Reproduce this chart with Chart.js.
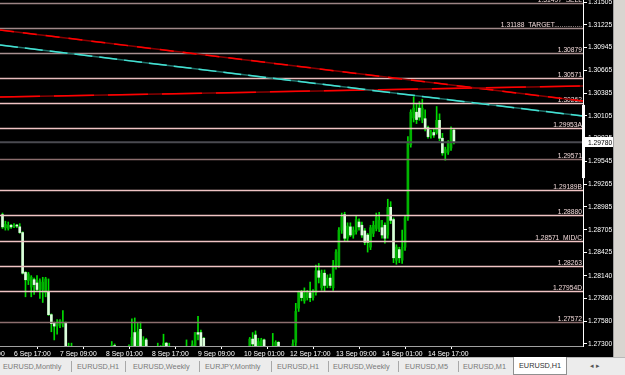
<!DOCTYPE html>
<html><head><meta charset="utf-8">
<script src="https://cdn.jsdelivr.net/npm/chart.js@4/dist/chart.umd.min.js"></script>
<style>
html,body{margin:0;padding:0;background:#fff;}
#wrap{position:relative;width:625px;height:375px;overflow:hidden;background:#000;}
#c{position:absolute;left:0;top:0;}
#frame{position:absolute;left:613px;top:0;width:12px;height:357px;background:#d8d5d0;border-left:1px solid #a0a0a0;box-sizing:border-box;}
#tabs{position:absolute;left:0;top:357px;width:625px;height:18px;background:#ececec;border-top:1px solid #b8b8b8;box-sizing:border-box;font:7.3px 'Liberation Sans',Arial,sans-serif;color:#7a7a7a;}
.t{position:absolute;top:4px;white-space:nowrap;}
.s{position:absolute;top:3px;width:1px;height:11px;background:#a8a8a8;}
#act{position:absolute;left:513px;top:-1px;width:54px;height:18px;background:#fff;border:1px solid #909090;border-top:none;box-sizing:border-box;}
#act span{position:absolute;left:5px;top:4px;color:#333;}
</style></head>
<body>
<div id="wrap">
<canvas id="c" width="613" height="357"></canvas>
<div id="frame"></div>
<div id="tabs"></div>
</div>
<script>
// ---- data ----
const opens=[1.2889,1.2873,1.2872,1.2876,1.2874,1.2876,1.2874,1.2867,1.2818,1.2808,1.2800,1.2809,1.2805,1.2796,1.2797,1.2793,1.2794,1.2766,1.2756,1.2752,1.2753,1.2755,1.2756,1.2722,1.2710,1.2725,1.2706,1.2700,1.2708,1.2702,1.2697,1.2705,1.2709,1.2704,1.2710,1.2716,1.2711,1.2715,1.2720,1.2728,1.2716,1.2712,1.2717,1.2721,1.2718,1.2726,1.2744,1.2727,1.2748,1.2724,1.2735,1.2718,1.2712,1.2719,1.2715,1.2724,1.2715,1.2731,1.2716,1.2722,1.2714,1.2709,1.2713,1.2719,1.2723,1.2720,1.2725,1.2722,1.2744,1.2744,1.2737,1.2720,1.2712,1.2716,1.2711,1.2706,1.2710,1.2714,1.2709,1.2712,1.2718,1.2714,1.2717,1.2721,1.2716,1.2720,1.2724,1.2736,1.2741,1.2720,1.2725,1.2735,1.2718,1.2712,1.2720,1.2726,1.2732,1.2720,1.2714,1.2718,1.2722,1.2719,1.2732,1.2774,1.2794,1.2783,1.2787,1.2793,1.2787,1.2793,1.2820,1.2799,1.2817,1.2802,1.2811,1.2799,1.2825,1.2827,1.2870,1.2889,1.2860,1.2874,1.2864,1.2868,1.2880,1.2876,1.2869,1.2864,1.2849,1.2866,1.2872,1.2871,1.2873,1.2876,1.2864,1.2898,1.2883,1.2833,1.2846,1.2833,1.2849,1.2885,1.2975,1.3008,1.3015,1.3020,1.3006,1.3007,1.2996,1.2986,1.2990,1.2990,1.3005,1.2983,1.2965,1.2966,1.2971,1.2993];
const highs=[1.2891,1.2881,1.2880,1.2877,1.2878,1.2877,1.2878,1.2868,1.2819,1.2818,1.2814,1.2811,1.2814,1.2810,1.2812,1.2812,1.2810,1.2767,1.2757,1.2760,1.2760,1.2771,1.2757,1.2731,1.2731,1.2727,1.2715,1.2712,1.2716,1.2710,1.2709,1.2714,1.2718,1.2712,1.2720,1.2722,1.2719,1.2724,1.2733,1.2730,1.2722,1.2720,1.2724,1.2726,1.2729,1.2761,1.2762,1.2756,1.2757,1.2739,1.2737,1.2725,1.2722,1.2726,1.2731,1.2728,1.2742,1.2732,1.2731,1.2727,1.2720,1.2718,1.2722,1.2726,1.2735,1.2727,1.2734,1.2744,1.2764,1.2747,1.2738,1.2726,1.2720,1.2724,1.2718,1.2714,1.2719,1.2721,1.2716,1.2722,1.2725,1.2720,1.2724,1.2726,1.2723,1.2727,1.2738,1.2744,1.2746,1.2737,1.2737,1.2736,1.2725,1.2724,1.2743,1.2734,1.2733,1.2726,1.2722,1.2726,1.2727,1.2735,1.2780,1.2795,1.2796,1.2799,1.2796,1.2806,1.2797,1.2827,1.2829,1.2821,1.2821,1.2815,1.2816,1.2833,1.2846,1.2873,1.2891,1.2892,1.2879,1.2879,1.2874,1.2887,1.2884,1.2880,1.2872,1.2866,1.2876,1.2881,1.2891,1.2892,1.2882,1.2879,1.2908,1.2905,1.2885,1.2852,1.2849,1.2870,1.2888,1.2985,1.3018,1.3034,1.3025,1.3028,1.3031,1.3018,1.2998,1.2993,1.2995,1.3022,1.3013,1.2989,1.2972,1.2980,1.2997,1.2995];
const lows=[1.2872,1.2870,1.2870,1.2872,1.2873,1.2873,1.2866,1.2816,1.2788,1.2803,1.2788,1.2791,1.2795,1.2786,1.2781,1.2788,1.2765,1.2745,1.2735,1.2742,1.2750,1.2751,1.2712,1.2705,1.2702,1.2700,1.2695,1.2690,1.2698,1.2692,1.2688,1.2699,1.2700,1.2696,1.2703,1.2706,1.2702,1.2708,1.2712,1.2712,1.2705,1.2704,1.2709,1.2712,1.2714,1.2720,1.2722,1.2720,1.2718,1.2716,1.2712,1.2708,1.2705,1.2711,1.2710,1.2712,1.2712,1.2712,1.2708,1.2710,1.2702,1.2700,1.2706,1.2711,1.2715,1.2712,1.2716,1.2718,1.2735,1.2718,1.2715,1.2708,1.2703,1.2708,1.2701,1.2697,1.2703,1.2706,1.2700,1.2706,1.2710,1.2705,1.2709,1.2712,1.2708,1.2713,1.2718,1.2722,1.2716,1.2714,1.2718,1.2712,1.2708,1.2706,1.2714,1.2716,1.2715,1.2708,1.2705,1.2710,1.2712,1.2714,1.2728,1.2770,1.2783,1.2780,1.2784,1.2782,1.2784,1.2790,1.2805,1.2796,1.2795,1.2799,1.2799,1.2796,1.2822,1.2824,1.2866,1.2857,1.2856,1.2862,1.2860,1.2865,1.2870,1.2861,1.2852,1.2843,1.2846,1.2862,1.2869,1.2868,1.2860,1.2854,1.2860,1.2878,1.2830,1.2828,1.2830,1.2829,1.2845,1.2882,1.2972,1.3003,1.3001,1.3005,1.3002,1.2992,1.2983,1.2983,1.2984,1.2988,1.2980,1.2962,1.2956,1.2963,1.2968,1.2976];
const closes=[1.2874,1.2877,1.2876,1.2874,1.2876,1.2875,1.2867,1.2817,1.2809,1.2816,1.2812,1.2803,1.2797,1.2808,1.2806,1.2810,1.2766,1.2755,1.2752,1.2755,1.2759,1.2757,1.2722,1.2710,1.2725,1.2706,1.2700,1.2708,1.2702,1.2697,1.2705,1.2709,1.2704,1.2710,1.2716,1.2711,1.2715,1.2720,1.2728,1.2716,1.2712,1.2717,1.2721,1.2718,1.2726,1.2738,1.2727,1.2745,1.2724,1.2735,1.2718,1.2712,1.2719,1.2715,1.2724,1.2716,1.2731,1.2716,1.2722,1.2714,1.2709,1.2713,1.2719,1.2723,1.2720,1.2725,1.2729,1.2744,1.2742,1.2724,1.2720,1.2712,1.2716,1.2711,1.2706,1.2710,1.2714,1.2709,1.2712,1.2718,1.2714,1.2717,1.2721,1.2716,1.2720,1.2724,1.2736,1.2730,1.2720,1.2733,1.2735,1.2718,1.2712,1.2720,1.2726,1.2732,1.2720,1.2714,1.2718,1.2722,1.2719,1.2730,1.2770,1.2794,1.2787,1.2793,1.2793,1.2787,1.2792,1.2820,1.2812,1.2817,1.2802,1.2811,1.2802,1.2827,1.2843,1.2870,1.2886,1.2860,1.2875,1.2864,1.2870,1.2883,1.2874,1.2864,1.2855,1.2855,1.2873,1.2876,1.2886,1.2882,1.2864,1.2860,1.2898,1.2882,1.2836,1.2849,1.2836,1.2849,1.2885,1.2977,1.3015,1.3020,1.3006,1.3009,1.3020,1.2996,1.2985,1.2990,1.2987,1.3005,1.2983,1.2965,1.2969,1.2977,1.2993,1.2978];

const yTickValues=[1.31505,1.31225,1.30945,1.30665,1.30385,1.30105,1.29825,1.29545,1.29265,1.28985,1.28705,1.28425,1.28140,1.27860,1.27580,1.27300];
const xTickIndex=[-12,4,20,36,52,68,84,100,116,132,148];
const xTickLabels=['6 Sep 01:00','6 Sep 17:00','7 Sep 09:00','8 Sep 01:00','8 Sep 17:00','9 Sep 09:00','10 Sep 01:00','12 Sep 17:00','13 Sep 09:00','14 Sep 01:00','14 Sep 17:00'];

const levelPrices=[1.31497,1.31188,1.30879,1.30571,1.30262,1.29953,1.29571,1.29189,1.28880,1.28571,1.28263,1.27954,1.27572];
const levelTags=['  SELL','  TARGET...............','','','','A','','B','','  MID/C','','D',''];
const bidPrice=1.29780;
const axisMarkRange=[1.30240,1.29340];

// trend lines: [bar index, price] anchor pairs
const redUpperLine=[[0,1.31157],[157,1.30481]];
const redLowerLine=[[0,1.30338],[157,1.30443]];
const cyanLine=[[0,1.30973],[157,1.30296]];

const tabNames=['EURUSD,Monthly','EURUSD,H1','EURUSD,Weekly','EURJPY,Monthly','EURUSD,H1','EURUSD,Weekly','EURUSD,M5','EURUSD,M1'];
const activeTab='EURUSD,H1';

// ---- styles (not data) ----
const levelColors=['#9c8484','#a08888','#a89090','#e8bcbc','#f0c4c4','#f0c4c4','#8c6e6e','#f0c4c4','#f0c4c4','#f0c4c4','#f0c4c4','#f0c4c4','#8c6e6e'];
const trendStyles=[
  {pts:redUpperLine,base:'#8a0000',hi:'#ff0000',dash:[14,9]},
  {pts:redLowerLine,base:'#8a0000',hi:'#ff0000',dash:[40,14]},
  {pts:cyanLine,base:'#1f6f68',hi:'#44e0d2',dash:[18,7]}
];
const tabLefts=[3,77,133,205,277,333,405,463];
const sepLefts=[71,125,199,271,328,398,458];
const FONT='"Liberation Sans", Arial, sans-serif';

// tabs
const tabsEl=document.getElementById('tabs');
tabNames.forEach((n,k)=>{const s=document.createElement('span');s.className='t';s.style.left=tabLefts[k]+'px';s.textContent=n;tabsEl.appendChild(s);});
sepLefts.forEach(l=>{const d=document.createElement('div');d.className='s';d.style.left=l+'px';tabsEl.appendChild(d);});
const act=document.createElement('div');act.id='act';const as=document.createElement('span');as.textContent=activeTab;act.appendChild(as);tabsEl.appendChild(act);
const arr=document.createElement('span');arr.className='t';arr.style.left='590px';arr.style.top='3px';arr.style.color='#555';arr.textContent='\u25C2 \u25B8';tabsEl.appendChild(arr);

// ---- chart ----
const idx=opens.map((_,i)=>i);
const bodyData=idx.map(i=>({x:i,y:[opens[i],closes[i]]}));
const wickData=idx.map(i=>({x:i,y:[lows[i],highs[i]]}));
const bodyColors=idx.map(i=>closes[i]>opens[i]?'#00b400':'#dcffdc');

const overlay={
  id:'overlay',
  afterDatasetsDraw(chart){
    const {ctx,chartArea:a,scales:{x,y}}=chart;
    ctx.save();
    ctx.beginPath();ctx.rect(a.left,a.top,a.right-a.left,a.bottom-a.top);ctx.clip();
    // bid line
    const by=y.getPixelForValue(bidPrice);
    ctx.strokeStyle='#4a4a50';ctx.lineWidth=2;
    ctx.beginPath();ctx.moveTo(a.left,by);ctx.lineTo(a.right,by);ctx.stroke();
    // level lines + labels
    ctx.font='6.7px '+FONT;ctx.textAlign='right';ctx.textBaseline='alphabetic';
    levelPrices.forEach((p,k)=>{
      const py=Math.round(y.getPixelForValue(p))+0.5;
      ctx.strokeStyle=levelColors[k];ctx.lineWidth=1.4;
      ctx.beginPath();ctx.moveTo(a.left,py);ctx.lineTo(a.right,py);ctx.stroke();
      ctx.fillStyle='#f2dada';
      ctx.fillText(p.toFixed(5)+levelTags[k],a.right-1,py-1.8);
    });
    // trend lines (two-tone like the original rendering)
    trendStyles.forEach(t=>{
      const pts=t.pts;
      const x1=x.getPixelForValue(pts[0][0]),y1=y.getPixelForValue(pts[0][1]);
      const x2=x.getPixelForValue(pts[1][0]),y2=y.getPixelForValue(pts[1][1]);
      const m=(y2-y1)/(x2-x1);
      const ya=y1+m*(a.left-x1),yb=y1+m*(a.right-x1);
      ctx.lineWidth=1.5;
      ctx.setLineDash([]);ctx.strokeStyle=t.base;
      ctx.beginPath();ctx.moveTo(a.left,ya);ctx.lineTo(a.right,yb);ctx.stroke();
      ctx.setLineDash(t.dash);ctx.strokeStyle=t.hi;
      ctx.beginPath();ctx.moveTo(a.left,ya);ctx.lineTo(a.right,yb);ctx.stroke();
    });
    ctx.setLineDash([]);
    ctx.restore();
  },
  afterDraw(chart){
    const {ctx,chartArea:a,scales:{y}}=chart;
    const by=y.getPixelForValue(bidPrice);
    ctx.save();
    // thick range mark on the price axis
    const m1=y.getPixelForValue(axisMarkRange[0]),m2=y.getPixelForValue(axisMarkRange[1]);
    ctx.fillStyle='#fff';ctx.fillRect(a.right-1,m1,3,m2-m1);
    // current price box
    ctx.fillStyle='#fff';ctx.fillRect(a.right,Math.round(by)-5,30,10);
    ctx.fillStyle='#000';ctx.font='6.7px '+FONT;ctx.textAlign='left';ctx.textBaseline='middle';
    ctx.fillText(bidPrice.toFixed(5),a.right+5,by+0.5);
    ctx.restore();
  }
};

new Chart(document.getElementById('c'),{
  type:'bar',
  data:{datasets:[
    {data:wickData,backgroundColor:'#00dc00',barThickness:1,grouped:false,order:2,minBarLength:1},
    {data:bodyData,backgroundColor:bodyColors,barThickness:2,grouped:false,order:1,minBarLength:1}
  ]},
  options:{
    responsive:false,animation:false,
    layout:{padding:0},
    plugins:{legend:{display:false},tooltip:{enabled:false}},
    scales:{
      x:{type:'linear',min:-0.87,max:201.9,offset:false,
        afterBuildTicks:s=>{s.ticks=xTickIndex.map(v=>({value:v}));},
        afterFit:s=>{s.height=11;s.paddingLeft=0;s.paddingRight=0;},
        ticks:{autoSkip:false,maxRotation:0,minRotation:0,align:'start',padding:1,color:'#fff',font:{family:FONT,size:6.8},
          callback:(v)=>{const k=xTickIndex.indexOf(v);return k>=0?xTickLabels[k]:'';}},
        grid:{drawOnChartArea:false,drawTicks:true,tickLength:3,color:'#fff'},
        border:{display:true,color:'#a0a0a0'}
      },
      y:{position:'right',min:1.27275,max:1.31530,
        afterBuildTicks:s=>{s.ticks=yTickValues.map(v=>({value:v}));},
        afterFit:s=>{s.width=30;s.paddingTop=0;s.paddingBottom=0;},
        ticks:{color:'#fff',padding:1,font:{family:FONT,size:6.7},callback:v=>Number(v).toFixed(5)},
        grid:{drawOnChartArea:false,drawTicks:true,tickLength:4,color:'#fff'},
        border:{display:true,color:'#fff'}
      }
    }
  },
  plugins:[overlay]
});
</script>
</body></html>
